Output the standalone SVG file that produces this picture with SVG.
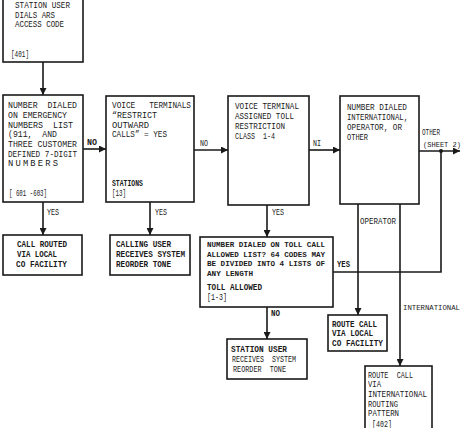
<svg xmlns="http://www.w3.org/2000/svg" width="466" height="428" viewBox="0 0 466 428">
<style>
rect{fill:#fff;stroke:#1a1a1a;stroke-width:1.6}
text{font-family:"Liberation Mono","DejaVu Sans Mono",monospace;fill:#1a1a1a;white-space:pre}
.r{font-size:8.8px}
.s{font-size:8.2px}
.e{font-size:7.4px}
.b{font-size:8.6px;font-weight:bold}
.t{font-size:7.6px;font-weight:bold}
.c path,.c line{stroke:#1a1a1a;stroke-width:1.6;fill:none}
</style>
<defs>
<marker id="a" viewBox="0 0 8 8" refX="8" refY="4" markerWidth="7" markerHeight="7" markerUnits="userSpaceOnUse" orient="auto"><path d="M0,0L8,4L0,8Z" fill="#1a1a1a"/></marker>
</defs>
<g class="c" id="connectors">
<line x1="43" y1="62" x2="43" y2="95" marker-end="url(#a)"/>
<line x1="83" y1="149" x2="106" y2="149" marker-end="url(#a)"/>
<line x1="194" y1="150" x2="228" y2="150" marker-end="url(#a)"/>
<line x1="309" y1="150" x2="340" y2="150" marker-end="url(#a)"/>
<line x1="419" y1="151" x2="460" y2="151" marker-end="url(#a)"/>
<path d="M441,151V272H333"/>
<circle cx="441" cy="151" r="2" fill="#1a1a1a"/>
<line x1="43" y1="202" x2="43" y2="235" marker-end="url(#a)"/>
<line x1="150" y1="202" x2="150" y2="235" marker-end="url(#a)"/>
<line x1="267" y1="205" x2="267" y2="237" marker-end="url(#a)"/>
<line x1="267" y1="307" x2="267" y2="339" marker-end="url(#a)"/>
<line x1="358" y1="204" x2="358" y2="315" marker-end="url(#a)"/>
<line x1="400" y1="204" x2="400" y2="366" marker-end="url(#a)"/>
<text class="b" x="87" y="145" textLength="10" lengthAdjust="spacingAndGlyphs">NO</text>
<text class="s" x="200" y="146" textLength="8" lengthAdjust="spacingAndGlyphs">NO</text>
<text class="s" x="313" y="146" textLength="8" lengthAdjust="spacingAndGlyphs">NI</text>
<text class="r" x="422" y="135" textLength="18" lengthAdjust="spacingAndGlyphs">OTHER</text>
<text class="e" x="423" y="147" textLength="38" lengthAdjust="spacingAndGlyphs">(SHEET 2)</text>
<text class="s" x="47" y="215" textLength="12" lengthAdjust="spacingAndGlyphs">YES</text>
<text class="s" x="155" y="215" textLength="12" lengthAdjust="spacingAndGlyphs">YES</text>
<text class="s" x="272" y="215" textLength="12" lengthAdjust="spacingAndGlyphs">YES</text>
<text class="b" x="337" y="267" textLength="13" lengthAdjust="spacingAndGlyphs">YES</text>
<text class="b" x="271" y="316" textLength="9" lengthAdjust="spacingAndGlyphs">NO</text>
<text class="r" x="360" y="224" textLength="36" lengthAdjust="spacingAndGlyphs">OPERATOR</text>
<text class="e" x="403" y="310" textLength="57" lengthAdjust="spacingAndGlyphs">INTERNATIONAL</text>
</g>
<g id="n1">
<rect x="3" y="-3" width="80" height="65"/>
<text class="r" x="15" y="8" textLength="55" lengthAdjust="spacingAndGlyphs">STATION USER</text>
<text class="r" x="15" y="18" textLength="40" lengthAdjust="spacingAndGlyphs">DIALS ARS</text>
<text class="r" x="15" y="27" textLength="49" lengthAdjust="spacingAndGlyphs">ACCESS CODE</text>
<text class="s" x="11" y="57" textLength="18" lengthAdjust="spacingAndGlyphs">[401]</text>
</g>
<g id="n2">
<rect x="3" y="95" width="80" height="107"/>
<text class="r" x="8" y="108" textLength="69" lengthAdjust="spacingAndGlyphs">NUMBER  DIALED</text>
<text class="r" x="8" y="118" textLength="59" lengthAdjust="spacingAndGlyphs">ON EMERGENCY</text>
<text class="r" x="8" y="128" textLength="65" lengthAdjust="spacingAndGlyphs">NUMBERS  LIST</text>
<text class="r" x="8" y="137" textLength="49" lengthAdjust="spacingAndGlyphs">(911,  AND</text>
<text class="r" x="8" y="147" textLength="69" lengthAdjust="spacingAndGlyphs">THREE CUSTOMER</text>
<text class="r" x="8" y="157" textLength="69" lengthAdjust="spacingAndGlyphs">DEFINED 7-DIGIT</text>
<text class="r" x="8" y="166" textLength="50" lengthAdjust="spacing">N U M B E R S</text>
<text class="s" x="9" y="196" textLength="38" lengthAdjust="spacingAndGlyphs">[ 601 -603]</text>
</g>
<g id="n3">
<rect x="106" y="96" width="88" height="106"/>
<text class="r" x="112" y="108" textLength="79" lengthAdjust="spacingAndGlyphs">VOICE   TERMINALS</text>
<text class="r" x="112" y="118" textLength="45" lengthAdjust="spacingAndGlyphs">“RESTRICT</text>
<text class="r" x="112" y="128" textLength="37" lengthAdjust="spacingAndGlyphs">OUTWARD</text>
<text class="r" x="112" y="137" textLength="55" lengthAdjust="spacingAndGlyphs">CALLS” = YES</text>
<text class="b" x="112" y="186" textLength="31" lengthAdjust="spacingAndGlyphs">STATIONS</text>
<text class="r" x="112" y="196" textLength="14" lengthAdjust="spacingAndGlyphs">[13]</text>
</g>
<g id="n4">
<rect x="228" y="96" width="81" height="109"/>
<text class="r" x="235" y="109" textLength="64" lengthAdjust="spacingAndGlyphs">VOICE TERMINAL</text>
<text class="r" x="235" y="119" textLength="59" lengthAdjust="spacingAndGlyphs">ASSIGNED TOLL</text>
<text class="r" x="235" y="129" textLength="50" lengthAdjust="spacingAndGlyphs">RESTRICTION</text>
<text class="r" x="235" y="139" textLength="40" lengthAdjust="spacingAndGlyphs">CLASS  1-4</text>
</g>
<g id="n5">
<rect x="340" y="96" width="79" height="108"/>
<text class="r" x="347" y="110" textLength="60" lengthAdjust="spacingAndGlyphs">NUMBER DIALED</text>
<text class="r" x="347" y="120" textLength="61" lengthAdjust="spacingAndGlyphs">INTERNATIONAL,</text>
<text class="r" x="347" y="130" textLength="55" lengthAdjust="spacingAndGlyphs">OPERATOR, OR</text>
<text class="r" x="347" y="140" textLength="21" lengthAdjust="spacingAndGlyphs">OTHER</text>
</g>
<g id="n6">
<rect x="3" y="235" width="79" height="40"/>
<text class="b" x="17" y="247" textLength="50" lengthAdjust="spacingAndGlyphs">CALL ROUTED</text>
<text class="b" x="17" y="257" textLength="40" lengthAdjust="spacingAndGlyphs">VIA LOCAL</text>
<text class="b" x="16" y="267" textLength="51" lengthAdjust="spacingAndGlyphs">CO FACILITY</text>
</g>
<g id="n7">
<rect x="110" y="235" width="80" height="40"/>
<text class="b" x="116" y="247" textLength="55" lengthAdjust="spacingAndGlyphs">CALLING USER</text>
<text class="b" x="116" y="257" textLength="69" lengthAdjust="spacingAndGlyphs">RECEIVES SYSTEM</text>
<text class="b" x="116" y="267" textLength="55" lengthAdjust="spacingAndGlyphs">REORDER TONE</text>
</g>
<g id="n8">
<rect x="200" y="237" width="133" height="70"/>
<text class="t" x="207" y="247" textLength="118" lengthAdjust="spacingAndGlyphs">NUMBER DIALED ON TOLL CALL</text>
<text class="t" x="207" y="257" textLength="118" lengthAdjust="spacingAndGlyphs">ALLOWED LIST? 64 CODES MAY</text>
<text class="t" x="207" y="266" textLength="118" lengthAdjust="spacingAndGlyphs">BE DIVIDED INTO 4 LISTS OF</text>
<text class="t" x="207" y="276" textLength="46" lengthAdjust="spacingAndGlyphs">ANY LENGTH</text>
<text class="b" x="207" y="290" textLength="55" lengthAdjust="spacingAndGlyphs">TOLL ALLOWED</text>
<text class="r" x="207" y="300" textLength="20" lengthAdjust="spacingAndGlyphs">[1-3]</text>
</g>
<g id="n9">
<rect x="227" y="339" width="80" height="40"/>
<text class="b" x="231" y="352" textLength="56" lengthAdjust="spacingAndGlyphs">STATION USER</text>
<text class="s" x="232" y="362" textLength="64" lengthAdjust="spacingAndGlyphs">RECEIVES  SYSTEM</text>
<text class="s" x="233" y="372" textLength="53" lengthAdjust="spacingAndGlyphs">REORDER  TONE</text>
</g>
<g id="n10">
<rect x="328" y="315" width="59" height="36"/>
<text class="b" x="332" y="327" textLength="45" lengthAdjust="spacingAndGlyphs">ROUTE CALL</text>
<text class="b" x="332" y="336" textLength="41" lengthAdjust="spacingAndGlyphs">VIA LOCAL</text>
<text class="b" x="332" y="346" textLength="51" lengthAdjust="spacingAndGlyphs">CO FACILITY</text>
</g>
<g id="n11">
<rect x="365" y="366" width="67" height="70"/>
<text class="s" x="368" y="378" textLength="45" lengthAdjust="spacingAndGlyphs">ROUTE  CALL</text>
<text class="s" x="368" y="387" textLength="13" lengthAdjust="spacingAndGlyphs">VIA</text>
<text class="s" x="368" y="397" textLength="59" lengthAdjust="spacingAndGlyphs">INTERNATIONAL</text>
<text class="s" x="368" y="407" textLength="30" lengthAdjust="spacingAndGlyphs">ROUTING</text>
<text class="s" x="368" y="416" textLength="31" lengthAdjust="spacingAndGlyphs">PATTERN</text>
<text class="s" x="372" y="427" textLength="20" lengthAdjust="spacingAndGlyphs">[402]</text>
</g>
</svg>
